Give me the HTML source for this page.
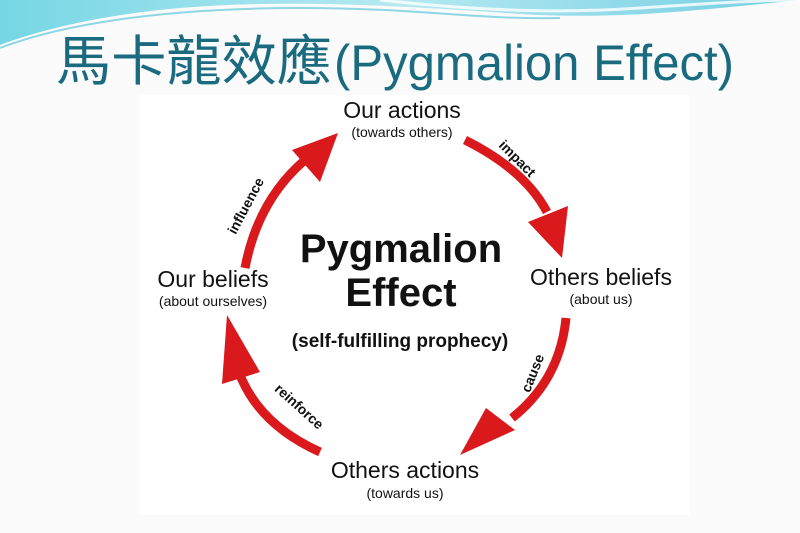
<!DOCTYPE html>
<html><head><meta charset="utf-8"><style>
html,body{margin:0;padding:0;}
body{width:800px;height:533px;overflow:hidden;background:#fbfbfb;position:relative;font-family:"Liberation Sans",sans-serif;}
</style></head><body>
<svg width="800" height="533" viewBox="0 0 800 533" style="position:absolute;left:0;top:0">
<defs>
<linearGradient id="g1" x1="0" x2="1"><stop offset="0" stop-color="#5fd0e0"/><stop offset="0.5" stop-color="#a9e6ef"/><stop offset="1" stop-color="#5cc6e0"/></linearGradient>
</defs>
<path d="M0 0 H800 V0 C700 10 620 20 520 14 C430 8 300 -2 180 8 C100 15 40 30 0 45 Z" fill="url(#g1)" opacity="0.85"/>
<path d="M0 48 C60 25 160 8 300 8 C420 8 480 20 560 18" stroke="#8fd6e4" stroke-width="2" fill="none"/>
<path d="M380 0 C470 10 560 14 640 8 C700 4 760 0 800 0" stroke="#ffffff" stroke-width="3" fill="none" opacity="0.8"/>
<rect x="140" y="95" width="550" height="420" fill="#ffffff"/>
<text x="56" y="80" font-family="'Noto Sans CJK TC',sans-serif" font-size="54" fill="#1b6b80" textLength="276" lengthAdjust="spacingAndGlyphs">馬卡龍效應</text>
<text x="334" y="80" font-family="'Liberation Sans',sans-serif" font-size="50" fill="#1b6b80" textLength="400" lengthAdjust="spacingAndGlyphs">(Pygmalion Effect)</text>
<g fill="#d9191c" stroke="none">
<path d="M245 268 Q258 200 305 160" stroke="#d9191c" stroke-width="9" fill="none"/>
<polygon points="338,133 292,150 320,182"/>
<path d="M465 140 Q525 170 547 212" stroke="#d9191c" stroke-width="9" fill="none"/>
<polygon points="562,258 528,222 568,206"/>
<path d="M566 318 Q560 380 512 418" stroke="#d9191c" stroke-width="9" fill="none"/>
<polygon points="460,455 486,408 515,430"/>
<path d="M320 452 Q260 425 240 375" stroke="#d9191c" stroke-width="9" fill="none"/>
<polygon points="227,315 222,384 260,372"/>
</g>
<g font-family="'Liberation Sans',sans-serif" text-anchor="middle" fill="#111">
<text x="402" y="118" font-size="23">Our actions</text>
<text x="402" y="137" font-size="14">(towards others)</text>
<text x="213" y="287" font-size="23">Our beliefs</text>
<text x="213" y="306" font-size="14">(about ourselves)</text>
<text x="601" y="285" font-size="23">Others beliefs</text>
<text x="601" y="304" font-size="14">(about us)</text>
<text x="405" y="478" font-size="23">Others actions</text>
<text x="405" y="498" font-size="14">(towards us)</text>
<text x="401" y="262" font-size="40" font-weight="bold">Pygmalion</text>
<text x="401" y="306" font-size="40" font-weight="bold">Effect</text>
<text x="400" y="347" font-size="19" font-weight="bold">(self-fulfilling prophecy)</text>
<g font-size="14" font-weight="bold">
<text transform="translate(250,208) rotate(-62)">influence</text>
<text transform="translate(514,162) rotate(45)">impact</text>
<text transform="translate(537,375) rotate(-68)">cause</text>
<text transform="translate(296,410) rotate(42)">reinforce</text>
</g>
</g>
</svg>
</body></html>
